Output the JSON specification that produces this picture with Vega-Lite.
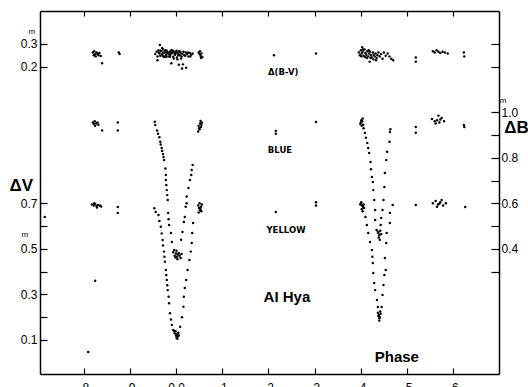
{
  "$schema": "https://vega.github.io/schema/vega-lite/v6.json",
  "width": 459,
  "height": 363,
  "autosize": {"type": "none"},
  "padding": {"left": 40, "top": 11, "right": 29, "bottom": 13},
  "background": "white",
  "config": {
    "view": {"stroke": null},
    "font": "Liberation Sans",
    "axis": {
      "grid": false,
      "domainColor": "black",
      "domainWidth": 1.5,
      "tickColor": "black",
      "tickWidth": 1.2,
      "labelColor": "black",
      "labelFont": "Liberation Sans",
      "labelFontSize": 12,
      "title": null
    }
  },
  "datasets": {
    "yellow": [
      {"phase": -0.284, "v": 0.640},
      {"phase": -0.182, "v": 0.695}, {"phase": -0.178, "v": 0.690}, {"phase": -0.175, "v": 0.697}, {"phase": -0.172, "v": 0.688}, {"phase": -0.169, "v": 0.693}, {"phase": -0.165, "v": 0.690}, {"phase": -0.162, "v": 0.686}, {"phase": -0.177, "v": 0.700}, {"phase": -0.171, "v": 0.682},
      {"phase": -0.126, "v": 0.684}, {"phase": -0.126, "v": 0.658},
      {"phase": -0.175, "v": 0.360}, {"phase": -0.190, "v": 0.047},
      {"phase": -0.047, "v": 0.678}, {"phase": -0.044, "v": 0.662}, {"phase": -0.038, "v": 0.649}, {"phase": -0.036, "v": 0.622}, {"phase": -0.033, "v": 0.597}, {"phase": -0.031, "v": 0.568}, {"phase": -0.029, "v": 0.539}, {"phase": -0.026, "v": 0.488}, {"phase": -0.024, "v": 0.444}, {"phase": -0.022, "v": 0.407}, {"phase": -0.020, "v": 0.363}, {"phase": -0.018, "v": 0.319}, {"phase": -0.015, "v": 0.261}, {"phase": -0.013, "v": 0.217}, {"phase": -0.009, "v": 0.166}, {"phase": -0.006, "v": 0.144},
      {"phase": -0.028, "v": 0.515}, {"phase": -0.025, "v": 0.465}, {"phase": -0.021, "v": 0.385}, {"phase": -0.019, "v": 0.340}, {"phase": -0.016, "v": 0.290}, {"phase": -0.011, "v": 0.190},
      {"phase": -0.003, "v": 0.130}, {"phase": 0.000, "v": 0.120}, {"phase": 0.002, "v": 0.125}, {"phase": 0.004, "v": 0.115}, {"phase": 0.001, "v": 0.110}, {"phase": 0.006, "v": 0.120}, {"phase": -0.004, "v": 0.140}, {"phase": 0.003, "v": 0.105}, {"phase": 0.005, "v": 0.132}, {"phase": -0.001, "v": 0.138},
      {"phase": 0.009, "v": 0.158}, {"phase": 0.013, "v": 0.200}, {"phase": 0.016, "v": 0.246}, {"phase": 0.017, "v": 0.290}, {"phase": 0.019, "v": 0.328}, {"phase": 0.022, "v": 0.363}, {"phase": 0.025, "v": 0.407}, {"phase": 0.029, "v": 0.451}, {"phase": 0.032, "v": 0.488}, {"phase": 0.034, "v": 0.526}, {"phase": 0.035, "v": 0.570}, {"phase": 0.037, "v": 0.614},
      {"phase": 0.048, "v": 0.690}, {"phase": 0.050, "v": 0.680}, {"phase": 0.052, "v": 0.670}, {"phase": 0.054, "v": 0.685}, {"phase": 0.056, "v": 0.695}, {"phase": 0.049, "v": 0.660}, {"phase": 0.053, "v": 0.675}, {"phase": 0.051, "v": 0.700}, {"phase": 0.055, "v": 0.665},
      {"phase": 0.216, "v": 0.662}, {"phase": 0.303, "v": 0.705}, {"phase": 0.303, "v": 0.690},
      {"phase": 0.400, "v": 0.700}, {"phase": 0.403, "v": 0.690}, {"phase": 0.405, "v": 0.685}, {"phase": 0.402, "v": 0.675}, {"phase": 0.407, "v": 0.680}, {"phase": 0.399, "v": 0.695}, {"phase": 0.404, "v": 0.665}, {"phase": 0.401, "v": 0.705}, {"phase": 0.406, "v": 0.695},
      {"phase": 0.413, "v": 0.605}, {"phase": 0.416, "v": 0.570}, {"phase": 0.420, "v": 0.530}, {"phase": 0.424, "v": 0.495}, {"phase": 0.426, "v": 0.438}, {"phase": 0.427, "v": 0.394}, {"phase": 0.429, "v": 0.350}, {"phase": 0.431, "v": 0.319}, {"phase": 0.435, "v": 0.276}, {"phase": 0.437, "v": 0.245}, {"phase": 0.410, "v": 0.640}, {"phase": 0.425, "v": 0.465},
      {"phase": 0.437, "v": 0.220}, {"phase": 0.439, "v": 0.210}, {"phase": 0.441, "v": 0.200}, {"phase": 0.443, "v": 0.215}, {"phase": 0.440, "v": 0.195}, {"phase": 0.438, "v": 0.205}, {"phase": 0.442, "v": 0.225}, {"phase": 0.440, "v": 0.185},
      {"phase": 0.445, "v": 0.245}, {"phase": 0.447, "v": 0.298}, {"phase": 0.449, "v": 0.341}, {"phase": 0.451, "v": 0.385}, {"phase": 0.454, "v": 0.407}, {"phase": 0.452, "v": 0.460}, {"phase": 0.455, "v": 0.526}, {"phase": 0.456, "v": 0.570}, {"phase": 0.463, "v": 0.614}, {"phase": 0.463, "v": 0.658}, {"phase": 0.469, "v": 0.693},
      {"phase": 0.519, "v": 0.693},
      {"phase": 0.556, "v": 0.700}, {"phase": 0.562, "v": 0.710}, {"phase": 0.567, "v": 0.695}, {"phase": 0.572, "v": 0.705}, {"phase": 0.578, "v": 0.690}, {"phase": 0.584, "v": 0.700}, {"phase": 0.565, "v": 0.685}, {"phase": 0.575, "v": 0.715}, {"phase": 0.570, "v": 0.698},
      {"phase": 0.626, "v": 0.684}
    ],
    "blue": [
      {"phase": -0.180, "v": 0.955}, {"phase": -0.176, "v": 0.960}, {"phase": -0.173, "v": 0.950}, {"phase": -0.170, "v": 0.955}, {"phase": -0.168, "v": 0.945}, {"phase": -0.175, "v": 0.940}, {"phase": -0.178, "v": 0.948}, {"phase": -0.160, "v": 0.920},
      {"phase": -0.126, "v": 0.955}, {"phase": -0.126, "v": 0.920},
      {"phase": -0.046, "v": 0.958}, {"phase": -0.045, "v": 0.944}, {"phase": -0.041, "v": 0.920}, {"phase": -0.036, "v": 0.890}, {"phase": -0.034, "v": 0.870}, {"phase": -0.031, "v": 0.843}, {"phase": -0.028, "v": 0.816}, {"phase": -0.026, "v": 0.790}, {"phase": -0.023, "v": 0.753}, {"phase": -0.022, "v": 0.724}, {"phase": -0.022, "v": 0.702}, {"phase": -0.020, "v": 0.658}, {"phase": -0.018, "v": 0.615}, {"phase": -0.017, "v": 0.558}, {"phase": -0.015, "v": 0.505}, {"phase": -0.011, "v": 0.470}, {"phase": -0.009, "v": 0.430}, {"phase": -0.004, "v": 0.395},
      {"phase": -0.039, "v": 0.905}, {"phase": -0.033, "v": 0.858}, {"phase": -0.030, "v": 0.830}, {"phase": -0.027, "v": 0.803}, {"phase": -0.021, "v": 0.680}, {"phase": -0.019, "v": 0.636}, {"phase": -0.016, "v": 0.530},
      {"phase": -0.006, "v": 0.385}, {"phase": -0.003, "v": 0.370}, {"phase": 0.000, "v": 0.380}, {"phase": 0.002, "v": 0.365}, {"phase": 0.004, "v": 0.375}, {"phase": 0.006, "v": 0.382}, {"phase": 0.008, "v": 0.370}, {"phase": 0.010, "v": 0.360}, {"phase": 0.001, "v": 0.392}, {"phase": 0.003, "v": 0.355}, {"phase": 0.012, "v": 0.378}, {"phase": -0.001, "v": 0.362},
      {"phase": 0.011, "v": 0.440}, {"phase": 0.014, "v": 0.474}, {"phase": 0.017, "v": 0.518}, {"phase": 0.019, "v": 0.540}, {"phase": 0.021, "v": 0.585}, {"phase": 0.023, "v": 0.600}, {"phase": 0.023, "v": 0.630}, {"phase": 0.027, "v": 0.667}, {"phase": 0.030, "v": 0.702}, {"phase": 0.034, "v": 0.746}, {"phase": 0.036, "v": 0.768}, {"phase": 0.033, "v": 0.724},
      {"phase": 0.049, "v": 0.940}, {"phase": 0.052, "v": 0.950}, {"phase": 0.054, "v": 0.935}, {"phase": 0.056, "v": 0.955}, {"phase": 0.051, "v": 0.925}, {"phase": 0.048, "v": 0.915}, {"phase": 0.055, "v": 0.945}, {"phase": 0.053, "v": 0.962}, {"phase": 0.050, "v": 0.930},
      {"phase": 0.216, "v": 0.918}, {"phase": 0.216, "v": 0.905},
      {"phase": 0.303, "v": 0.957},
      {"phase": 0.400, "v": 0.955}, {"phase": 0.403, "v": 0.960}, {"phase": 0.405, "v": 0.945}, {"phase": 0.402, "v": 0.940}, {"phase": 0.406, "v": 0.930}, {"phase": 0.401, "v": 0.965}, {"phase": 0.404, "v": 0.972}, {"phase": 0.399, "v": 0.948},
      {"phase": 0.409, "v": 0.909}, {"phase": 0.411, "v": 0.888}, {"phase": 0.414, "v": 0.865}, {"phase": 0.416, "v": 0.843}, {"phase": 0.418, "v": 0.821}, {"phase": 0.421, "v": 0.781}, {"phase": 0.422, "v": 0.750}, {"phase": 0.424, "v": 0.716}, {"phase": 0.426, "v": 0.694}, {"phase": 0.427, "v": 0.658}, {"phase": 0.429, "v": 0.615}, {"phase": 0.431, "v": 0.571}, {"phase": 0.431, "v": 0.527}, {"phase": 0.434, "v": 0.483},
      {"phase": 0.437, "v": 0.475}, {"phase": 0.438, "v": 0.470}, {"phase": 0.440, "v": 0.460}, {"phase": 0.442, "v": 0.480}, {"phase": 0.439, "v": 0.450}, {"phase": 0.443, "v": 0.505}, {"phase": 0.441, "v": 0.440}, {"phase": 0.444, "v": 0.465},
      {"phase": 0.444, "v": 0.536}, {"phase": 0.447, "v": 0.571}, {"phase": 0.449, "v": 0.615}, {"phase": 0.451, "v": 0.672}, {"phase": 0.452, "v": 0.733}, {"phase": 0.455, "v": 0.790}, {"phase": 0.457, "v": 0.826}, {"phase": 0.462, "v": 0.870}, {"phase": 0.463, "v": 0.913}, {"phase": 0.464, "v": 0.925},
      {"phase": 0.519, "v": 0.935}, {"phase": 0.519, "v": 0.910},
      {"phase": 0.554, "v": 0.970}, {"phase": 0.560, "v": 0.960}, {"phase": 0.565, "v": 0.965}, {"phase": 0.570, "v": 0.955}, {"phase": 0.575, "v": 0.975}, {"phase": 0.580, "v": 0.960}, {"phase": 0.568, "v": 0.985}, {"phase": 0.562, "v": 0.950}, {"phase": 0.572, "v": 0.968},
      {"phase": 0.623, "v": 0.944}, {"phase": 0.624, "v": 0.935}
    ],
    "bv": [
      {"phase": -0.180, "v": 0.262}, {"phase": -0.177, "v": 0.268}, {"phase": -0.175, "v": 0.255}, {"phase": -0.172, "v": 0.262}, {"phase": -0.170, "v": 0.256}, {"phase": -0.168, "v": 0.250}, {"phase": -0.166, "v": 0.260}, {"phase": -0.178, "v": 0.250}, {"phase": -0.163, "v": 0.247}, {"phase": -0.160, "v": 0.215}, {"phase": -0.174, "v": 0.245},
      {"phase": -0.124, "v": 0.262}, {"phase": -0.122, "v": 0.255},
      {"phase": -0.045, "v": 0.255}, {"phase": -0.042, "v": 0.265}, {"phase": -0.040, "v": 0.245}, {"phase": -0.038, "v": 0.272}, {"phase": -0.036, "v": 0.258}, {"phase": -0.034, "v": 0.248}, {"phase": -0.032, "v": 0.268}, {"phase": -0.030, "v": 0.255}, {"phase": -0.028, "v": 0.275}, {"phase": -0.026, "v": 0.242}, {"phase": -0.024, "v": 0.262}, {"phase": -0.022, "v": 0.250}, {"phase": -0.020, "v": 0.270}, {"phase": -0.018, "v": 0.258}, {"phase": -0.016, "v": 0.245}, {"phase": -0.014, "v": 0.265}, {"phase": -0.012, "v": 0.252}, {"phase": -0.010, "v": 0.272}, {"phase": -0.008, "v": 0.260}, {"phase": -0.006, "v": 0.244}, {"phase": -0.004, "v": 0.266}, {"phase": -0.002, "v": 0.252}, {"phase": 0.000, "v": 0.262}, {"phase": 0.002, "v": 0.240}, {"phase": 0.004, "v": 0.258}, {"phase": 0.006, "v": 0.268}, {"phase": 0.008, "v": 0.250}, {"phase": 0.010, "v": 0.260}, {"phase": 0.012, "v": 0.245}, {"phase": 0.014, "v": 0.256}, {"phase": 0.016, "v": 0.265}, {"phase": 0.018, "v": 0.250}, {"phase": 0.021, "v": 0.262}, {"phase": 0.024, "v": 0.255}, {"phase": 0.027, "v": 0.245}, {"phase": 0.030, "v": 0.260}, {"phase": 0.033, "v": 0.252}, {"phase": 0.036, "v": 0.258},
      {"phase": -0.037, "v": 0.262}, {"phase": -0.033, "v": 0.270}, {"phase": -0.027, "v": 0.262}, {"phase": -0.023, "v": 0.272}, {"phase": -0.019, "v": 0.262}, {"phase": -0.015, "v": 0.255}, {"phase": -0.011, "v": 0.262}, {"phase": -0.007, "v": 0.270}, {"phase": -0.003, "v": 0.258}, {"phase": 0.001, "v": 0.270}, {"phase": 0.005, "v": 0.250}, {"phase": 0.009, "v": 0.265}, {"phase": -0.029, "v": 0.248}, {"phase": -0.021, "v": 0.242}, {"phase": -0.013, "v": 0.244}, {"phase": -0.005, "v": 0.236}, {"phase": 0.003, "v": 0.232}, {"phase": 0.011, "v": 0.236},
      {"phase": -0.035, "v": 0.295}, {"phase": -0.040, "v": 0.228}, {"phase": -0.010, "v": 0.215}, {"phase": 0.006, "v": 0.208}, {"phase": 0.015, "v": 0.210}, {"phase": 0.013, "v": 0.192}, {"phase": 0.022, "v": 0.195}, {"phase": -0.030, "v": 0.282},
      {"phase": 0.020, "v": 0.248}, {"phase": 0.026, "v": 0.262}, {"phase": 0.031, "v": 0.245},
      {"phase": 0.049, "v": 0.262}, {"phase": 0.051, "v": 0.255}, {"phase": 0.053, "v": 0.248}, {"phase": 0.055, "v": 0.258}, {"phase": 0.057, "v": 0.242}, {"phase": 0.052, "v": 0.268}, {"phase": 0.054, "v": 0.238},
      {"phase": 0.212, "v": 0.250}, {"phase": 0.303, "v": 0.258},
      {"phase": 0.396, "v": 0.262}, {"phase": 0.398, "v": 0.250}, {"phase": 0.400, "v": 0.272}, {"phase": 0.402, "v": 0.258}, {"phase": 0.404, "v": 0.265}, {"phase": 0.406, "v": 0.248}, {"phase": 0.408, "v": 0.275}, {"phase": 0.410, "v": 0.260}, {"phase": 0.412, "v": 0.252}, {"phase": 0.414, "v": 0.268}, {"phase": 0.416, "v": 0.245}, {"phase": 0.418, "v": 0.258}, {"phase": 0.420, "v": 0.266}, {"phase": 0.422, "v": 0.250}, {"phase": 0.424, "v": 0.240}, {"phase": 0.426, "v": 0.262}, {"phase": 0.428, "v": 0.252}, {"phase": 0.430, "v": 0.245}, {"phase": 0.432, "v": 0.258}, {"phase": 0.434, "v": 0.238}, {"phase": 0.436, "v": 0.250}, {"phase": 0.438, "v": 0.262}, {"phase": 0.441, "v": 0.245}, {"phase": 0.444, "v": 0.255}, {"phase": 0.447, "v": 0.235}, {"phase": 0.450, "v": 0.262}, {"phase": 0.454, "v": 0.248}, {"phase": 0.458, "v": 0.258}, {"phase": 0.462, "v": 0.245}, {"phase": 0.466, "v": 0.235}, {"phase": 0.470, "v": 0.228},
      {"phase": 0.401, "v": 0.245}, {"phase": 0.405, "v": 0.275}, {"phase": 0.409, "v": 0.242}, {"phase": 0.413, "v": 0.238}, {"phase": 0.417, "v": 0.272}, {"phase": 0.421, "v": 0.238}, {"phase": 0.427, "v": 0.232}, {"phase": 0.433, "v": 0.228}, {"phase": 0.403, "v": 0.285}, {"phase": 0.419, "v": 0.222},
      {"phase": 0.519, "v": 0.240}, {"phase": 0.519, "v": 0.222},
      {"phase": 0.556, "v": 0.268}, {"phase": 0.560, "v": 0.262}, {"phase": 0.564, "v": 0.272}, {"phase": 0.568, "v": 0.265}, {"phase": 0.572, "v": 0.260}, {"phase": 0.577, "v": 0.265}, {"phase": 0.582, "v": 0.262}, {"phase": 0.588, "v": 0.258},
      {"phase": 0.623, "v": 0.262}, {"phase": 0.624, "v": 0.245}
    ],
    "notes": [
      {"kind": "panel", "text": "Δ(B-V)", "phase": 0.232, "v": 1.276},
      {"kind": "panel", "text": "BLUE", "phase": 0.225, "v": 0.936},
      {"kind": "panel", "text": "YELLOW", "phase": 0.238, "v": 0.585},
      {"kind": "big", "text": "AI Hya", "phase": 0.240, "v": 0.289},
      {"kind": "big", "text": "Phase", "phase": 0.478, "v": 0.025},
      {"kind": "axis", "text": "ΔV", "phase": -0.335, "v": 0.778},
      {"kind": "axis", "text": "ΔB", "phase": 0.737, "v": 1.030},
      {"kind": "unit", "text": "m", "phase": -0.312, "v": 1.452},
      {"kind": "unit", "text": "m", "phase": -0.327, "v": 0.560},
      {"kind": "unit", "text": "m", "phase": 0.708, "v": 1.150}
    ]
  },
  "layer": [
    {
      "data": {"name": "yellow"},
      "mark": {"type": "circle", "size": 6, "color": "black", "opacity": 1},
      "encoding": {
        "x": {
          "field": "phase", "type": "quantitative",
          "scale": {"domain": [-0.2944, 0.6991], "nice": false, "zero": false},
          "axis": {
            "orient": "bottom",
            "values": [-0.2, -0.1, 0, 0.1, 0.2, 0.3, 0.4, 0.5, 0.6],
            "labelExpr": "datum.value == 0 ? '0.0' : replace(format(datum.value < 0 ? datum.value + 1 : datum.value, '.1f'), '0.', '.')",
            "tickSize": -6,
            "labelPadding": 14,
            "title": null
          }
        },
        "y": {
          "field": "v", "type": "quantitative",
          "scale": {"domain": [-0.0493, 1.5443], "nice": false, "zero": false},
          "axis": {
            "orient": "left",
            "values": [0.1, 0.2, 0.3, 0.4, 0.5, 0.6, 0.7, 1.3, 1.4],
            "labelExpr": "datum.value > 1 ? format(datum.value - 1.1, '.1f') : (round(datum.value * 10) % 2 == 1 ? format(datum.value, '.1f') : '')",
            "tickSize": -7,
            "labelPadding": 10,
            "title": null
          }
        }
      }
    },
    {
      "data": {"name": "blue"},
      "mark": {"type": "circle", "size": 6, "color": "black", "opacity": 1},
      "encoding": {
        "x": {"field": "phase", "type": "quantitative", "scale": {"domain": [-0.2944, 0.6991], "nice": false, "zero": false}, "axis": null},
        "y": {
          "field": "v", "type": "quantitative",
          "scale": {"domain": [-0.1493, 1.4443], "nice": false, "zero": false},
          "axis": {
            "orient": "right",
            "values": [0.3, 0.4, 0.5, 0.6, 0.7, 0.8, 0.9, 1.0, 1.2, 1.3],
            "labelExpr": "datum.value < 1.1 && round(datum.value * 10) % 2 == 0 ? format(datum.value, '.1f') : ''",
            "tickSize": -8,
            "labelPadding": 10,
            "title": null
          }
        }
      }
    },
    {
      "data": {"name": "bv"},
      "mark": {"type": "circle", "size": 6, "color": "black", "opacity": 1},
      "encoding": {
        "x": {
          "field": "phase", "type": "quantitative",
          "scale": {"domain": [-0.2944, 0.6991], "nice": false, "zero": false},
          "axis": {
            "orient": "top",
            "values": [-0.2, -0.1, 0, 0.1, 0.2, 0.3, 0.4, 0.5, 0.6],
            "labels": false,
            "tickSize": -5,
            "title": null
          }
        },
        "y": {"field": "v", "type": "quantitative", "scale": {"domain": [-1.1493, 0.4443], "nice": false, "zero": false}, "axis": null}
      }
    },
    {
      "data": {"name": "notes"},
      "transform": [{"filter": "datum.kind == 'panel'"}],
      "mark": {"type": "text", "font": "DejaVu Sans", "fontWeight": "bold", "fontSize": 8.5, "align": "center", "baseline": "middle", "color": "black"},
      "encoding": {
        "x": {"field": "phase", "type": "quantitative", "scale": {"domain": [-0.2944, 0.6991], "nice": false, "zero": false}, "axis": null},
        "y": {"field": "v", "type": "quantitative", "scale": {"domain": [-0.0493, 1.5443], "nice": false, "zero": false}, "axis": null},
        "text": {"field": "text"}
      }
    },
    {
      "data": {"name": "notes"},
      "transform": [{"filter": "datum.kind == 'big'"}],
      "mark": {"type": "text", "font": "Liberation Sans", "fontWeight": "bold", "fontSize": 15, "align": "center", "baseline": "middle", "color": "black"},
      "encoding": {
        "x": {"field": "phase", "type": "quantitative", "scale": {"domain": [-0.2944, 0.6991], "nice": false, "zero": false}, "axis": null},
        "y": {"field": "v", "type": "quantitative", "scale": {"domain": [-0.0493, 1.5443], "nice": false, "zero": false}, "axis": null},
        "text": {"field": "text"}
      }
    },
    {
      "data": {"name": "notes"},
      "transform": [{"filter": "datum.kind == 'axis'"}],
      "mark": {"type": "text", "font": "Liberation Sans", "fontWeight": "bold", "fontSize": 17, "align": "center", "baseline": "middle", "color": "black"},
      "encoding": {
        "x": {"field": "phase", "type": "quantitative", "scale": {"domain": [-0.2944, 0.6991], "nice": false, "zero": false}, "axis": null},
        "y": {"field": "v", "type": "quantitative", "scale": {"domain": [-0.0493, 1.5443], "nice": false, "zero": false}, "axis": null},
        "text": {"field": "text"}
      }
    },
    {
      "data": {"name": "notes"},
      "transform": [{"filter": "datum.kind == 'unit'"}],
      "mark": {"type": "text", "font": "Liberation Sans", "fontSize": 8, "align": "center", "baseline": "middle", "color": "black"},
      "encoding": {
        "x": {"field": "phase", "type": "quantitative", "scale": {"domain": [-0.2944, 0.6991], "nice": false, "zero": false}, "axis": null},
        "y": {"field": "v", "type": "quantitative", "scale": {"domain": [-0.0493, 1.5443], "nice": false, "zero": false}, "axis": null},
        "text": {"field": "text"}
      }
    }
  ],
  "resolve": {"scale": {"y": "independent"}, "axis": {"x": "independent", "y": "independent"}}
}
